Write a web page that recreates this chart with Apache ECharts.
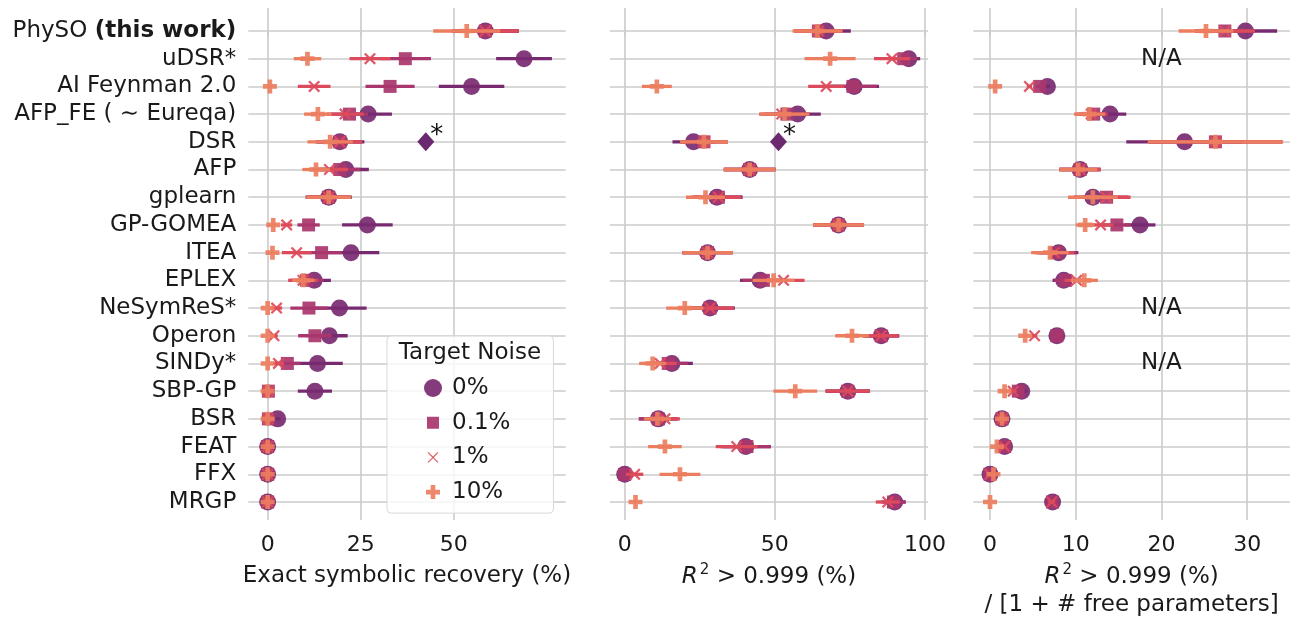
<!DOCTYPE html>
<html>
<head>
<meta charset="utf-8">
<script src="https://cdn.jsdelivr.net/npm/echarts@6/dist/echarts.min.js"></script>
<style>
  html, body { margin: 0; padding: 0; background: #fff; }
  #chart { width: 1291px; height: 620px; }
</style>
</head>
<body>
<div id="chart"></div>
<script>
// methods, top to bottom
var methods = ['PhySO (this work)', 'uDSR*', 'AI Feynman 2.0', 'AFP_FE ( \u223C Eureqa)', 'DSR', 'AFP',
  'gplearn', 'GP-GOMEA', 'ITEA', 'EPLEX', 'NeSymReS*', 'Operon', 'SINDy*', 'SBP-GP', 'BSR', 'FEAT', 'FFX', 'MRGP'];
var noiseNames = ['0%', '0.1%', '1%', '10%'];

var xTicksRecov = [0, 25, 50];
var xTicksR2 = [0, 50, 100];
var xTicksR2Par = [0, 10, 20, 30];

// exact symbolic recovery (%)
var recovN0 = [58.5, 68.9, 54.8, 27, 19.4, 21, 16.4, 26.8, 22.4, 12.5, 19.3, 16.6, 13.4, 12.7, 2.7, 0, 0, 0];
var recovN01 = [58.5, 37, 32.9, 22, 19.4, 19.4, 16.4, 11, 14.5, 10.5, 11.1, 12.7, 5.3, 0.2, 0.2, 0, 0, 0];
var recovN1 = [58.5, 27.5, 12.5, 20.8, 19.4, 16.6, 16.4, 5.1, 7.8, 9.5, 2.4, 1.7, 2.9, 0.1, 0.1, 0, 0, 0];
var recovN10 = [53.5, 10.7, 0.6, 13.5, 16.8, 13, 16.4, 1.5, 1.3, 9.6, 0, 0, 0, 0, 0, 0, 0, 0];
var recovErrN0 = [9, 7.5, 8.8, 6.4, 6.6, 6.2, 6.2, 6.8, 7.6, 4.5, 7.3, 4.9, 6.8, 4.6, 0.8, 0, 0, 0];
var recovErrN01 = [9, 6.9, 6.6, 5, 6, 5.5, 6, 3, 5.5, 4.5, 5, 4.5, 3.5, 0.5, 0.5, 0, 0, 0];
var recovErrN1 = [9, 5.5, 4.4, 5, 6, 5, 6, 1.5, 4, 4, 1.5, 1, 1.5, 0.3, 0.3, 0, 0, 0];
var recovErrN10 = [9, 3.7, 0.5, 3.7, 6.1, 3.7, 6, 0.5, 0.5, 3, 0, 0, 0, 0, 0, 0, 0, 0];

// R2 > 0.999 (%)
var r2N0 = [67.1, 94.6, 76.4, 57.6, 22.9, 41.6, 30.7, 71.2, 27.6, 45.1, 28.4, 85.4, 15.7, 74.3, 11.2, 40.3, 0, 89.9];
var r2N01 = [64.5, 92.9, 76, 54, 26.4, 41.6, 31.2, 71.2, 27.6, 46.2, 28.4, 85.4, 14.5, 74.3, 11.2, 40.7, 0, 89.5];
var r2N1 = [64.5, 89, 67.1, 52.3, 26.4, 41.6, 31.2, 71.2, 27.6, 52.9, 28.4, 85.4, 11.8, 74.3, 13.4, 37.3, 3.3, 87.6];
var r2N10 = [64.2, 68.4, 10.7, 53.2, 26.4, 41.6, 26.9, 71.2, 27.6, 49.6, 20, 75.7, 9.3, 56.8, 10.9, 13.4, 18.4, 3.6];
var r2ErrN0 = [8.2, 3.8, 8.3, 7.7, 7, 8.6, 8.5, 8.5, 8.4, 6.7, 8.3, 6, 7, 7.4, 6.5, 8.4, 0.5, 3.7];
var r2ErrN01 = [8, 4.5, 8, 7.5, 8, 8.6, 8, 8.5, 8.4, 7, 8, 6, 6.5, 7.4, 6.5, 8, 0.5, 4];
var r2ErrN1 = [8, 6, 6, 7.5, 8, 8.6, 7.5, 8.5, 8.4, 7, 8, 5.8, 5.5, 7.3, 5, 7, 2.9, 4];
var r2ErrN10 = [8.3, 8.5, 5, 8.3, 8, 8.6, 6.5, 8.5, 8.4, 7, 6.2, 5.6, 4.5, 7.3, 4.5, 5.6, 6.8, 0.6];

// R2 > 0.999 (%) / [1 + # free parameters], null = N/A
var parN0 = [29.8, null, 6.7, 14, 22.7, 10.5, 12, 17.5, 8, 8.6, null, 7.8, null, 3.7, 1.4, 1.7, 0, 7.3];
var parN01 = [27.4, null, 5.8, 12.1, 26.3, 10.5, 13.6, 14.8, 7.8, 8.8, null, 7.8, null, 3.3, 1.4, 1.7, 0, 7.3];
var parN1 = [27.4, null, 4.6, 11.8, 26.3, 10.5, 13.6, 12.9, 7.5, 10.1, null, 5.2, null, 2.7, 1.4, 1.7, 0, 7.2];
var parN10 = [25.2, null, 0.6, 11.6, 26.3, 10.3, 12, 11.1, 7, 11, null, 4.1, null, 1.7, 1.4, 0.8, 0.4, 0];
var parErrN0 = [3.7, null, 0.3, 1.9, 6.8, 2.4, 2.2, 1.8, 2.3, 1.3, null, 0.4, null, 0.6, 0.3, 0.3, 0.2, 0.4];
var parErrN01 = [3.5, null, 0.4, 1.7, 7.8, 2.4, 2.5, 1.6, 2.3, 1.3, null, 0.4, null, 0.6, 0.3, 0.3, 0.2, 0.4];
var parErrN1 = [3.5, null, 0.3, 1.8, 7.8, 2.4, 2.8, 1.5, 2.3, 1.4, null, 0.3, null, 0.4, 0.3, 0.3, 0.2, 0.4];
var parErrN10 = [3.2, null, 0.2, 1.8, 7.9, 2.2, 2.9, 1.1, 2.2, 1.6, null, 0.3, null, 0.4, 0.3, 0.3, 0.2, 0];

// DSR extra point (diamond, marked *) in panels 1 and 2
var dsrStar = [42.5, 51.2];

var chart = echarts.init(document.getElementById('chart'));
var font = 'DejaVu Sans';
var fs = 23;
var tickFs = 22;
var textColor = '#1a1a1a';
var gridColor = '#cbcbcb';
var colors = ['#782a70', '#a9366d', '#dc4b5b', '#ec7e5f'];
var symbols = [
  'circle',
  'rect',
  'path://M0,1.6L1.6,0L6,4.4L10.4,0L12,1.6L7.6,6L12,10.4L10.4,12L6,7.6L1.6,12L0,10.4L4.4,6Z',
  'path://M4,0H8V4H12V8H8V12H4V8H0V4H4Z'
];
var symbolSizes = [17, 13, 12, 14];
// legend icons, padded inside an 18x18 box so they keep their relative sizes
var legendIcons = [
  'circle',
  'path://M0,0L0.01,0M18,18L18.01,18M3,3H15V15H3Z',
  'path://M0,0L0.01,0M18,18L18.01,18M3.6,4.4L4.4,3.6L9,8.2L13.6,3.6L14.4,4.4L9.8,9L14.4,13.6L13.6,14.4L9,9.8L4.4,14.4L3.6,13.6L8.2,9Z',
  'path://M0,0L0.01,0M18,18L18.01,18M6.7,2H11.3V6.7H16V11.3H11.3V16H6.7V11.3H2V6.7H6.7Z'
];
var rowIdx = methods.map(function (m, i) { return i; });

var panels = [
  { vals: [recovN0, recovN01, recovN1, recovN10], errs: [recovErrN0, recovErrN01, recovErrN1, recovErrN10],
    min: -5.2, max: 80.1, left: 248.3, width: 317.4, ticks: xTicksRecov, nameGap: 42,
    name: 'Exact symbolic recovery (%)' },
  { vals: [r2N0, r2N01, r2N1, r2N10], errs: [r2ErrN0, r2ErrN01, r2ErrN1, r2ErrN10],
    min: -4.9, max: 101, left: 610, width: 318, ticks: xTicksR2, nameGap: 43,
    name: '{it|R}{sup|2} > 0.999 (%)' },
  { vals: [parN0, parN01, parN1, parN10], errs: [parErrN0, parErrN01, parErrN1, parErrN10],
    min: -1.95, max: 35, left: 973.3, width: 316.7, ticks: xTicksR2Par, nameGap: 43,
    name: '{it|R}{sup|2} > 0.999 (%)\n/ [1 + # free parameters]' }
];

var grids = [], xAxes = [], yAxes = [], series = [];

panels.forEach(function (p, pi) {
  grids.push({ left: p.left, width: p.width, top: 8, height: 512, outerBoundsMode: 'none', containLabel: false });
  xAxes.push({
    type: 'value', gridIndex: pi, min: p.min, max: p.max,
    axisLine: { show: false },
    axisTick: { show: true, length: 6, customValues: p.ticks, lineStyle: { color: gridColor, width: 1.6 } },
    axisLabel: { customValues: p.ticks, margin: 14, fontSize: tickFs, color: textColor, fontFamily: font },
    splitLine: { show: true, lineStyle: { color: gridColor, width: 1.6 } },
    name: p.name, nameLocation: 'middle', nameGap: p.nameGap, nameMoveOverlap: false,
    nameTextStyle: {
      fontSize: fs, color: textColor, fontFamily: font, lineHeight: 28,
      rich: {
        it: { fontStyle: 'italic', fontSize: fs, fontFamily: font, color: textColor },
        sup: { fontSize: 15, fontFamily: font, color: textColor, verticalAlign: 'top', padding: [0, 0, 8, 2] }
      }
    }
  });
  yAxes.push({
    type: 'value', gridIndex: pi, inverse: true, min: -0.83, max: 17.65,
    axisLine: { show: false },
    axisTick: { show: false, customValues: rowIdx },
    axisLabel: {
      show: pi === 0, customValues: rowIdx, margin: 12, fontSize: fs, color: textColor, fontFamily: font,
      formatter: function (v) {
        var name = methods[Math.round(v)];
        return name.replace('(this work)', '{b|(this work)}');
      },
      rich: { b: { fontWeight: 'bold', fontSize: fs, fontFamily: font, color: textColor } }
    },
    splitLine: { show: true, lineStyle: { color: gridColor, width: 1.6 } }
  });

  p.vals.forEach(function (vals, k) {
    var errs = p.errs[k];
    var errData = [], ptData = [];
    vals.forEach(function (v, i) {
      if (v == null) return;
      errData.push([v - errs[i], v + errs[i], i]);
      ptData.push([v, i]);
    });
    series.push({
      type: 'custom', name: noiseNames[k] + ' err', xAxisIndex: pi, yAxisIndex: pi,
      z: 2 + 2 * k, silent: true,
      encode: { x: [0, 1], y: 2 },
      data: errData,
      renderItem: function (params, api) {
        var a = api.coord([api.value(0), api.value(2)]);
        var b = api.coord([api.value(1), api.value(2)]);
        return { type: 'line', shape: { x1: a[0], y1: a[1], x2: b[0], y2: b[1] },
          style: { stroke: colors[k], lineWidth: 3.3 } };
      }
    });
    series.push({
      type: 'scatter', name: noiseNames[k], xAxisIndex: pi, yAxisIndex: pi,
      z: 3 + 2 * k, silent: true,
      symbol: symbols[k], symbolSize: symbolSizes[k],
      itemStyle: { color: colors[k], opacity: 0.92 },
      data: ptData
    });
  });
});

// DSR diamond with asterisk
dsrStar.forEach(function (v, pi) {
  series.push({
    type: 'scatter', name: 'DSR*', xAxisIndex: pi, yAxisIndex: pi, z: 12, silent: true,
    symbol: 'diamond', symbolSize: [17, 19],
    itemStyle: { color: '#6b2a70', opacity: 1 },
    label: { show: true, formatter: '*', position: [13, -9], fontSize: 26, color: '#111', fontFamily: font },
    data: [[v, methods.indexOf('DSR')]]
  });
});

// N/A rows in the third panel
var naData = [];
parN0.forEach(function (v, i) { if (v == null) naData.push([20, i]); });
series.push({
  type: 'scatter', name: 'N/A', xAxisIndex: 2, yAxisIndex: 2, z: 12, silent: true,
  symbolSize: 2, itemStyle: { color: 'rgba(0,0,0,0)', opacity: 1 },
  label: { show: true, formatter: 'N/A', position: 'inside', fontSize: fs, color: textColor, fontFamily: font },
  data: naData
});

var option = {
  animation: false,
  backgroundColor: '#ffffff',
  textStyle: { fontFamily: font },
  grid: grids,
  xAxis: xAxes,
  yAxis: yAxes,
  legend: {
    data: noiseNames.map(function (n, k) { return { name: n, icon: legendIcons[k] }; }),
    orient: 'vertical', left: 387, top: 336,
    padding: [40.5, 43, 9.5, 37], itemWidth: 18, itemHeight: 18, itemGap: 11.7,
    backgroundColor: 'rgba(255,255,255,0.8)', borderColor: '#d9d9d9', borderWidth: 1, borderRadius: 4,
    selectedMode: false,
    textStyle: { fontSize: fs, color: textColor, fontFamily: font, padding: [0, 0, 0, 5] }
  },
  graphic: [{
    type: 'text', z: 100, silent: true,
    style: { text: 'Target Noise', x: 470, y: 353, textAlign: 'center', textVerticalAlign: 'middle',
      font: fs + 'px "DejaVu Sans"', fill: textColor }
  }],
  series: series
};
chart.setOption(option);
</script>
</body>
</html>
